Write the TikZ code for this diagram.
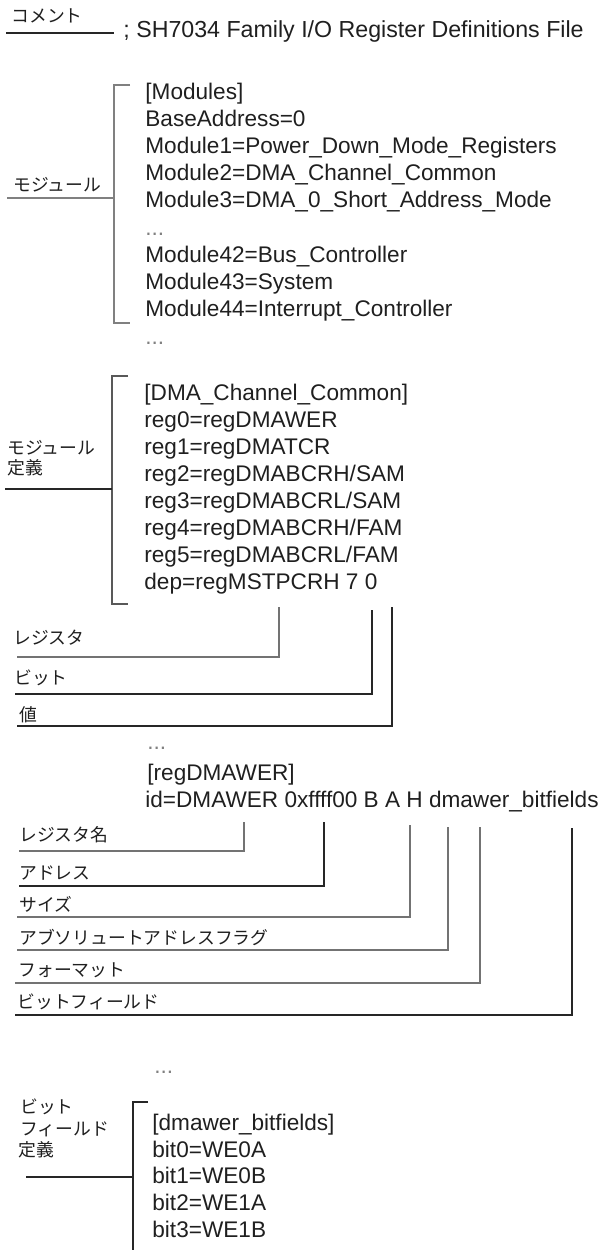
\documentclass[tikz,border=0pt]{standalone}
\usepackage{fontspec}
\setmainfont{Liberation Sans}
\newfontfamily\jp{Noto Sans CJK JP}
\begin{document}
\begin{tikzpicture}[x=0.5pt,y=-0.5pt,
  code/.style={anchor=base west,inner sep=0pt,font=\fontsize{11.3}{13}\selectfont,text=black!88},
  dotsty/.style={code,text=black!50},
  lab/.style={anchor=west,inner sep=0pt,font=\jp\fontsize{8.9}{10}\selectfont,text=black!88},
  brone/.style={line width=1.3pt,draw=black!50},
  brtwo/.style={line width=1.2pt,draw=black!65},
  ln/.style={line width=1pt,draw=black!85},
  lngray/.style={line width=1pt,draw=black!55}]
\useasboundingbox (0,0) rectangle (603,1250);

% comment
\node[lab] (cmt) at (11,16) {コメント};
\coordinate (cmtL) at (6,33); \coordinate (cmtR) at (114,33);
\draw[ln] (cmtL) -- (cmtR);
\node[code,font=\fontsize{11.6}{13}\selectfont] (title) at (123,37) {; SH7034 Family I/O Register Definitions File};

% modules
\coordinate (b1a) at (130,85); \coordinate (b1b) at (114,85);
\coordinate (b1c) at (114,323); \coordinate (b1d) at (130,323);
\draw[brone] (b1a) -- (b1b) -- (b1c) -- (b1d);
\coordinate (m1L) at (7,198); \coordinate (m1R) at (114,198);
\draw[brone] (m1L) -- (m1R);
\node[lab] (lmod) at (13,185) {モジュール};
\node[code] (m0) at (145,99) {[Modules]};
\node[code] (m1) at (145,126.2) {BaseAddress=0};
\node[code] (m2) at (145,153.4) {Module1=Power\_Down\_Mode\_Registers};
\node[code] (m3) at (145,180.6) {Module2=DMA\_Channel\_Common};
\node[code] (m4) at (145,207.8) {Module3=DMA\_0\_Short\_Address\_Mode};
\node[dotsty] (m5) at (145,235) {...};
\node[code] (m6) at (145,262.2) {Module42=Bus\_Controller};
\node[code] (m7) at (145,289.4) {Module43=System};
\node[code] (m8) at (145,316.6) {Module44=Interrupt\_Controller};
\node[dotsty] (m9) at (145,344) {...};

% module definition
\coordinate (b2a) at (128,376); \coordinate (b2b) at (112,376);
\coordinate (b2c) at (112,604); \coordinate (b2d) at (128,604);
\draw[brtwo] (b2a) -- (b2b) -- (b2c) -- (b2d);
\coordinate (d1L) at (5,489); \coordinate (d1R) at (112,489);
\draw[ln] (d1L) -- (d1R);
\node[lab] (lmd1) at (7,448) {モジュール};
\node[lab] (lmd2) at (7,468) {定義};
\node[code] (d0) at (144,400) {[DMA\_Channel\_Common]};
\node[code] (d1) at (144,427) {reg0=regDMAWER};
\node[code] (d2) at (144,454) {reg1=regDMATCR};
\node[code] (d3) at (144,481) {reg2=regDMABCRH/SAM};
\node[code] (d4) at (144,508) {reg3=regDMABCRL/SAM};
\node[code] (d5) at (144,535) {reg4=regDMABCRH/FAM};
\node[code] (d6) at (144,562) {reg5=regDMABCRL/FAM};
\node[code] (d7) at (144,589) {dep=regMSTPCRH 7 0};

% register / bit / value
\coordinate (r1a) at (279,607); \coordinate (r1b) at (279,657); \coordinate (r1c) at (17,657);
\draw[lngray] (r1a) -- (r1b) -- (r1c);
\node[lab] (lreg) at (13,638) {レジスタ};
\coordinate (r2a) at (372,610); \coordinate (r2b) at (372,694); \coordinate (r2c) at (15,694);
\draw[ln] (r2a) -- (r2b) -- (r2c);
\node[lab] (lbit) at (14,678) {ビット};
\coordinate (r3a) at (392,607); \coordinate (r3b) at (392,726); \coordinate (r3c) at (17,726);
\draw[ln] (r3a) -- (r3b) -- (r3c);
\node[lab] (lval) at (19,715) {値};

% register definition
\node[dotsty] (g0) at (147,749) {...};
\node[code] (g1) at (147,780) {[regDMAWER]};
\node[code] (g2) at (145,807) {id=DMAWER 0xffff00 B A H dmawer\_bitfields};

\coordinate (f1a) at (244,822); \coordinate (f1b) at (244,851); \coordinate (f1c) at (19,851);
\draw[lngray] (f1a) -- (f1b) -- (f1c);
\node[lab] (lf1) at (19,835) {レジスタ名};
\coordinate (f2a) at (324,822); \coordinate (f2b) at (324,886); \coordinate (f2c) at (19,886);
\draw[ln] (f2a) -- (f2b) -- (f2c);
\node[lab] (lf2) at (19,873) {アドレス};
\coordinate (f3a) at (410,825); \coordinate (f3b) at (410,917); \coordinate (f3c) at (17,917);
\draw[lngray] (f3a) -- (f3b) -- (f3c);
\node[lab] (lf3) at (19,904) {サイズ};
\coordinate (f4a) at (448,827); \coordinate (f4b) at (448,950); \coordinate (f4c) at (17,950);
\draw[lngray] (f4a) -- (f4b) -- (f4c);
\node[lab] (lf4) at (19,937) {アブソリュートアドレスフラグ};
\coordinate (f5a) at (480,827); \coordinate (f5b) at (480,983); \coordinate (f5c) at (15,983);
\draw[lngray] (f5a) -- (f5b) -- (f5c);
\node[lab] (lf5) at (18,970) {フォーマット};
\coordinate (f6a) at (572,828); \coordinate (f6b) at (572,1015); \coordinate (f6c) at (15,1015);
\draw[ln] (f6a) -- (f6b) -- (f6c);
\node[lab] (lf6) at (17,1002) {ビットフィールド};

% bitfield definition
\node[dotsty] (h0) at (154,1073) {...};
\coordinate (b3a) at (148,1102); \coordinate (b3b) at (133,1102); \coordinate (b3c) at (133,1250);
\draw[ln] (b3a) -- (b3b) -- (b3c);
\coordinate (h1L) at (26,1177); \coordinate (h1R) at (133,1177);
\draw[ln] (h1L) -- (h1R);
\node[lab] (lb1) at (20,1107) {ビット};
\node[lab] (lb2) at (20,1129) {フィールド};
\node[lab] (lb3) at (18,1150) {定義};
\node[code] (h1) at (152,1130) {[dmawer\_bitfields]};
\node[code] (h2) at (152,1157) {bit0=WE0A};
\node[code] (h3) at (152,1183) {bit1=WE0B};
\node[code] (h4) at (152,1210) {bit2=WE1A};
\node[code] (h5) at (152,1237) {bit3=WE1B};
\end{tikzpicture}
\end{document}
